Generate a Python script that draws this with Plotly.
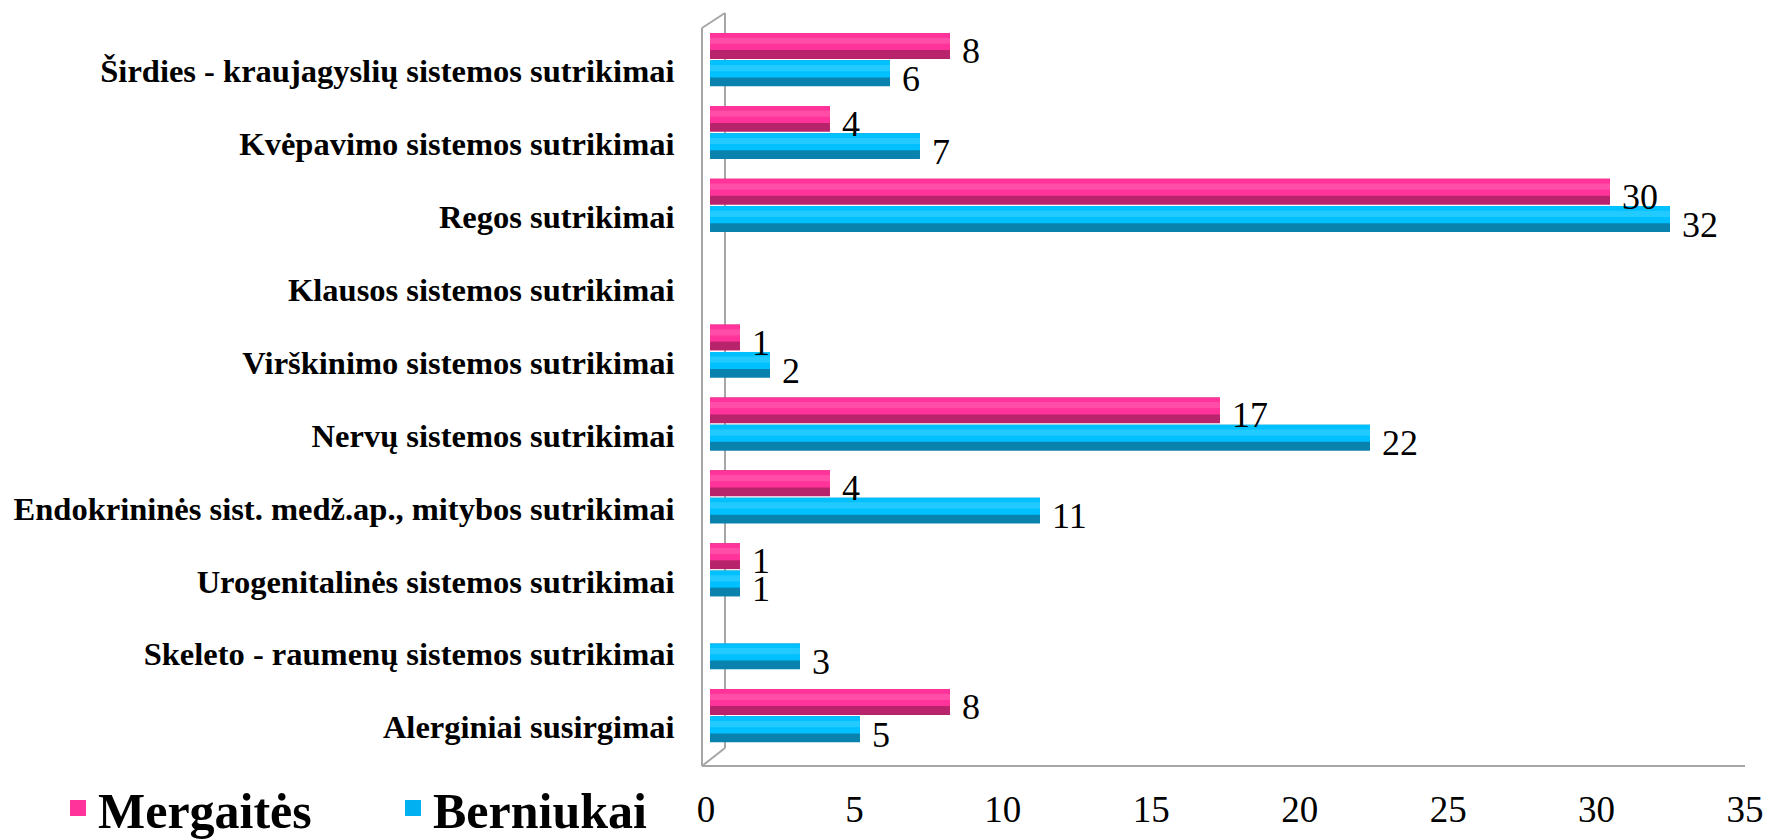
import plotly.graph_objects as go

# ---------------- data ----------------
categories = [
    "Širdies - kraujagyslių sistemos sutrikimai",
    "Kvėpavimo sistemos sutrikimai",
    "Regos sutrikimai",
    "Klausos sistemos sutrikimai",
    "Virškinimo sistemos sutrikimai",
    "Nervų sistemos sutrikimai",
    "Endokrininės sist. medž.ap., mitybos sutrikimai",
    "Urogenitalinės sistemos sutrikimai",
    "Skeleto - raumenų sistemos sutrikimai",
    "Alerginiai susirgimai",
]
mergaites = [8, 4, 30, None, 1, 17, 4, 1, None, 8]
berniukai = [6, 7, 32, None, 2, 22, 11, 1, 3, 5]
series_names = ["Mergaitės", "Berniukai"]
x_ticks = [0, 5, 10, 15, 20, 25, 30, 35]

# ---------------- layout constants ----------------
W, H = 1765, 839
L, R, T, B = 706, 20, 33, 70
PW, PH = W - L - R, H - T - B
SERIF = "Liberation Serif, Times New Roman, serif"

def px(x):
    return (x - L) / PW

def py(y):
    return (H - B - y) / PH

BAR_W = 0.355
styles = {
    "Mergaitės": dict(dark="#B8246B", main="#FF3399", light="#FF4DA8", legend="#FF3399",
                      offset=-0.521, label_shift=20),
    "Berniukai": dict(dark="#0A82AE", main="#00C0FF", light="#22CAFF", legend="#00B0F0",
                      offset=-0.146, label_shift=-8),
}

fig = go.Figure()
annotations = []

for name, vals in zip(series_names, [mergaites, berniukai]):
    st = styles[name]
    o = st["offset"]
    # darker lower part of the cylinder
    fig.add_trace(go.Bar(
        y=categories, x=vals, orientation="h", name=name, xaxis="x2",
        marker=dict(color=st["dark"], line=dict(width=0)),
        offset=o, width=BAR_W, showlegend=False, cliponaxis=False,
        hoverinfo="skip",
    ))
    # main body
    fig.add_trace(go.Bar(
        y=categories, x=vals, orientation="h", name=name, xaxis="x2",
        marker=dict(color=st["main"], line=dict(width=0)),
        offset=o, width=BAR_W * 0.66, showlegend=False, cliponaxis=False,
        hovertemplate="%{y}: %{x}<extra>" + name + "</extra>",
    ))
    # soft highlight
    fig.add_trace(go.Bar(
        y=categories, x=vals, orientation="h", name=name, xaxis="x2",
        marker=dict(color=st["light"], line=dict(width=0)),
        offset=o + BAR_W * 0.18, width=BAR_W * 0.24, showlegend=False, cliponaxis=False,
        hoverinfo="skip",
    ))
    # value labels
    for cat, v in zip(categories, vals):
        if v is None:
            continue
        annotations.append(dict(
            x=v, y=cat, xref="x2", yref="y", text=str(v), showarrow=False,
            xanchor="left", yanchor="middle", xshift=10, yshift=st["label_shift"],
            font=dict(family=SERIF, size=36, color="black"),
        ))

# legend entries
for i, name in enumerate(series_names):
    fig.add_trace(go.Scatter(
        x=[None], y=[None], mode="markers", name=name,
        marker=dict(symbol="square", size=24, color=styles[name]["legend"]),
        showlegend=True, legendrank=i + 1,
    ))

# 3D frame lines
gray = "#A6A6A6"
frame = [
    (702, 28, 702, 766),
    (725, 13, 725, 748),
    (702, 28, 725, 13),
    (702, 766, 725, 748),
    (702, 766, 1745, 766),
]
shapes = [
    dict(type="line", xref="paper", yref="paper",
         x0=px(a), y0=py(b), x1=px(c), y1=py(d),
         line=dict(color=gray, width=2), layer="below")
    for a, b, c, d in frame
]

fig.update_layout(
    width=W, height=H,
    margin=dict(l=L, r=R, t=T, b=B, autoexpand=False),
    paper_bgcolor="white", plot_bgcolor="white",
    barmode="overlay",
    shapes=shapes,
    annotations=annotations,
    font=dict(family=SERIF, color="black"),
    xaxis=dict(
        range=[0, 35], tickvals=x_ticks, ticktext=[str(t) for t in x_ticks],
        showgrid=False, zeroline=False, showline=False, automargin=False,
        ticks="outside", ticklen=8, tickcolor="rgba(0,0,0,0)",
        tickfont=dict(family=SERIF, size=37, color="black"),
        ticklabeloverflow="allow",
        fixedrange=True,
    ),
    # bars sit on the slightly shifted back plane of the 3D frame
    xaxis2=dict(
        overlaying="x", range=[-0.133, 34.5], visible=False,
        showgrid=False, zeroline=False, fixedrange=True,
    ),
    yaxis=dict(
        categoryorder="array", categoryarray=categories,
        autorange="reversed", automargin=False,
        showgrid=False, zeroline=False, showline=False,
        ticks="outside", ticklen=24, tickcolor="rgba(0,0,0,0)",
        tickfont=dict(family=SERIF, size=32.5, color="black", weight="bold"),
        fixedrange=True,
    ),
    legend=dict(
        orientation="h", x=px(58), xanchor="left",
        y=py(808), yanchor="middle",
        font=dict(family=SERIF, size=50, color="black", weight="bold"),
        entrywidth=290, itemsizing="trace", itemwidth=30,
        bgcolor="rgba(0,0,0,0)",
    ),
    showlegend=True,
)

fig.write_html(
    "out.html",
    config={"displayModeBar": False},
    post_script="document.body.style.margin='0';document.body.style.overflow='hidden';",
)
